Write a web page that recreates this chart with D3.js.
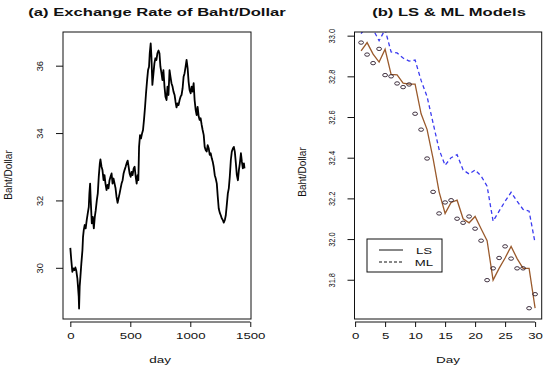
<!DOCTYPE html>
<html lang="en">
<head>
<meta charset="utf-8">
<script src="https://d3js.org/d3.v7.min.js"></script>
<style>
  body { margin: 0; background: #fff; }
  svg text { font-family: "Liberation Sans", Arial, sans-serif; fill: #111; }
</style>
</head>
<body>
<div id="chart"></div>
<script>
// ---- panel (a): daily exchange rate ----
var rateDay = [0, 8, 17, 25, 34, 42, 50, 59, 64, 70, 73, 78, 84, 92, 101, 106, 112, 120, 128, 137,
  145, 154, 159, 165, 170, 179, 187, 196, 204, 212, 221, 229, 237, 246, 251, 260, 268, 277, 285, 293,
  302, 310, 318, 327, 335, 344, 352, 360, 369, 377, 385, 394, 402, 411, 419, 427, 436, 444, 452, 461,
  469, 478, 486, 494, 503, 511, 519, 528, 536, 545, 553, 561, 567, 573, 581, 589, 598, 606, 614, 623,
  631, 640, 648, 656, 662, 670, 676, 684, 693, 701, 709, 718, 726, 735, 743, 751, 760, 768, 776, 785,
  793, 802, 810, 818, 827, 835, 843, 852, 860, 869, 877, 885, 894, 902, 911, 919, 927, 936, 944, 952,
  961, 969, 978, 986, 994, 1003, 1011, 1019, 1028, 1036, 1045, 1053, 1061, 1070, 1078, 1086, 1095, 1103, 1112, 1120,
  1128, 1137, 1145, 1154, 1162, 1170, 1179, 1187, 1195, 1204, 1212, 1221, 1229, 1237, 1246, 1254, 1262, 1271, 1279, 1288,
  1296, 1304, 1313, 1321, 1329, 1338, 1346, 1355, 1363, 1371, 1380, 1388, 1397, 1405, 1413, 1422, 1430, 1438, 1447, 1452];
var rateVal = [30.59, 30.23, 29.88, 29.98, 29.93, 30.01, 29.91, 29.68, 29.44, 29.14, 28.79, 29.44, 29.73, 30.13, 30.52, 30.92, 31.12, 31.27, 31.17, 31.42,
  31.61, 31.81, 32.21, 32.50, 32.01, 31.32, 31.51, 31.17, 31.51, 31.71, 32.01, 32.21, 32.70, 33.10, 33.22, 33.00, 32.90, 32.60, 32.75, 32.50,
  32.31, 32.46, 32.36, 32.60, 32.70, 32.80, 32.50, 32.65, 32.50, 32.36, 32.11, 31.93, 32.06, 32.21, 32.36, 32.50, 32.60, 32.80, 32.90, 33.00,
  33.10, 33.18, 33.00, 32.80, 32.70, 32.85, 32.75, 32.95, 33.00, 32.70, 32.50, 32.75, 32.60, 33.59, 33.94, 33.84, 33.99, 34.09, 34.39, 34.78,
  35.18, 35.57, 35.87, 35.97, 36.37, 36.66, 36.27, 35.43, 35.77, 36.07, 36.22, 36.17, 36.37, 36.45, 36.37, 35.97, 35.77, 35.57, 35.87, 35.38,
  35.08, 34.98, 35.38, 35.13, 35.87, 35.67, 35.48, 35.38, 35.23, 35.13, 34.93, 34.76, 34.88, 34.83, 34.98, 35.08, 35.13, 35.33, 35.67, 35.77,
  35.97, 36.17, 35.92, 35.52, 35.28, 35.18, 35.38, 35.23, 35.48, 34.98, 34.68, 34.53, 34.78, 34.49, 34.39, 34.44, 34.24, 34.09, 33.94, 33.59,
  33.50, 33.45, 33.64, 33.54, 33.35, 33.40, 33.25, 33.15, 33.00, 32.75, 32.65, 32.50, 32.11, 31.76, 31.63, 31.56, 31.47, 31.42, 31.34, 31.42,
  31.56, 31.86, 32.21, 32.36, 32.70, 33.20, 33.45, 33.54, 33.59, 33.45, 33.10, 32.75, 32.60, 32.90, 33.10, 33.40, 33.15, 32.95, 33.10, 32.95];
var rateXTicks = [0, 500, 1000, 1500];
var rateYTicks = [30, 32, 34, 36];

// ---- panel (b): last 30 days, observed vs LS and ML fits ----
var days = d3.range(1, 31);
var observed = [32.966, 32.907, 32.865, 32.935, 32.806, 32.800, 32.765, 32.747, 32.760, 32.616,
  32.538, 32.396, 32.232, 32.126, 32.180, 32.191, 32.100, 32.080, 32.111, 32.051,
  31.992, 31.798, 31.856, 31.907, 31.964, 31.904, 31.856, 31.856, 31.660, 31.729];
var lsFit = [32.925, 32.966, 32.909, 32.870, 32.933, 32.810, 32.807, 32.767, 32.762, 32.762,
  32.616, 32.538, 32.396, 32.232, 32.126, 32.180, 32.191, 32.100, 32.080, 32.111,
  32.051, 31.992, 31.798, 31.856, 31.907, 31.964, 31.904, 31.856, 31.856, 31.660];
var mlFit = [33.010, 33.050, 33.030, 32.975, 33.030, 32.920, 32.915, 32.890, 32.875, 32.880,
  32.780, 32.700, 32.570, 32.440, 32.363, 32.400, 32.415, 32.340, 32.320, 32.340,
  32.310, 32.260, 32.088, 32.137, 32.186, 32.230, 32.186, 32.146, 32.137, 31.980];
var dayTicks = [0, 5, 10, 15, 20, 25, 30];
var fitYTicks = [31.8, 32.0, 32.2, 32.4, 32.6, 32.8, 33.0];
var legendNames = ["LS", "ML"];

var width = 550, height = 369;
var stretch = 1.42;   // the picture is wider than tall, text looks stretched

var svg = d3.select("#chart").append("svg")
  .attr("width", width)
  .attr("height", height);

// horizontal text, stretched like the reference
function label(x, y, txt, size, bold) {
  return svg.append("text")
    .attr("transform", "translate(" + x + "," + y + ") scale(" + stretch + ",1)")
    .attr("text-anchor", "middle")
    .style("font-size", size + "px")
    .style("font-weight", bold ? "bold" : "normal")
    .text(txt);
}

function vlabel(x, y, txt) {
  return svg.append("text")
    .attr("transform", "translate(" + x + "," + y + ") rotate(-90)")
    .attr("text-anchor", "middle")
    .style("font-size", "10px")
    .text(txt);
}

function xAxis(scale, ticks, fmt) {
  var g = svg.append("g")
    .attr("transform", "translate(0,322)")
    .call(d3.axisBottom(scale).tickValues(ticks).tickFormat(fmt).tickSize(5).tickSizeOuter(0).tickPadding(5));
  g.select(".domain").attr("d", "M" + scale(ticks[0]) + ",0H" + scale(ticks[ticks.length - 1]));
  g.selectAll("line, path").attr("stroke", "#111");
  g.selectAll("text")
    .attr("transform", "scale(" + stretch + ",1)")
    .style("font-size", "9.3px")
    .attr("fill", "#111");
}

function yAxis(scale, x0, ticks, fmt, offset, squash) {
  var g = svg.append("g")
    .attr("transform", "translate(" + x0 + ",0)")
    .call(d3.axisLeft(scale).tickValues(ticks).tickFormat(fmt).tickSize(7).tickSizeOuter(0));
  g.select(".domain").remove();
  g.selectAll("line").attr("stroke", "#111");
  g.selectAll("text")
    .attr("x", 0).attr("y", 0).attr("dy", null)
    .attr("text-anchor", "middle")
    .attr("transform", "translate(" + (-offset) + ",0) rotate(-90) scale(" + squash + ",1)")
    .style("font-size", "9.3px")
    .attr("fill", "#111");
}

// ================= panel (a) =================
var xL = d3.scaleLinear().domain([-61, 1506]).range([63, 251]);
var yL = d3.scaleLinear().domain([28.48, 37.0]).range([319, 32]);

svg.append("rect")
  .attr("x", xL.range()[0]).attr("y", yL.range()[1])
  .attr("width", xL.range()[1] - xL.range()[0])
  .attr("height", yL.range()[0] - yL.range()[1])
  .attr("fill", "none").attr("stroke", "#111").attr("stroke-width", 1);

var rateLine = d3.line()
  .x(function(d, i) { return xL(rateDay[i]); })
  .y(function(d) { return yL(d); });

svg.append("path")
  .datum(rateVal)
  .attr("d", rateLine)
  .attr("fill", "none")
  .attr("stroke", "#000")
  .attr("stroke-width", 1.8)
  .attr("stroke-linejoin", "round");

xAxis(xL, rateXTicks, d3.format("d"));
yAxis(yL, 63, rateYTicks, d3.format("d"), 20, 1);

label(157, 16, "(a) Exchange Rate of Baht/Dollar", 11.7, true);
label(160, 363, "day", 9.5, false);
vlabel(12, 175, "Baht/Dollar");

// ================= panel (b) =================
var xR = d3.scaleLinear().domain([-0.1, 31.1]).range([354.5, 541.7]);
var yR = d3.scaleLinear().domain([31.607, 33.018]).range([319, 32]);

svg.append("clipPath").attr("id", "clipR")
  .append("rect")
  .attr("x", xR.range()[0]).attr("y", yR.range()[1])
  .attr("width", xR.range()[1] - xR.range()[0])
  .attr("height", yR.range()[0] - yR.range()[1]);

var plotR = svg.append("g").attr("clip-path", "url(#clipR)");

var fitLine = d3.line()
  .x(function(d, i) { return xR(days[i]); })
  .y(function(d) { return yR(d); });

plotR.append("path")
  .datum(mlFit)
  .attr("d", fitLine)
  .attr("fill", "none")
  .attr("stroke", "#3b3bf0")
  .attr("stroke-width", 1.3)
  .attr("stroke-dasharray", "4,3");

plotR.append("path")
  .datum(lsFit)
  .attr("d", fitLine)
  .attr("fill", "none")
  .attr("stroke", "#9a5a2c")
  .attr("stroke-width", 1.3);

plotR.selectAll("ellipse")
  .data(observed)
  .enter()
  .append("ellipse")
  .attr("cx", function(d, i) { return xR(days[i]); })
  .attr("cy", function(d) { return yR(d); })
  .attr("rx", 2.4)
  .attr("ry", 1.7)
  .attr("fill", "none")
  .attr("stroke", "#2a1a2a")
  .attr("stroke-width", 0.9);

svg.append("rect")
  .attr("x", xR.range()[0]).attr("y", yR.range()[1])
  .attr("width", xR.range()[1] - xR.range()[0])
  .attr("height", yR.range()[0] - yR.range()[1])
  .attr("fill", "none").attr("stroke", "#111").attr("stroke-width", 1);

xAxis(xR, dayTicks, d3.format("d"));
yAxis(yR, 354.5, fitYTicks, d3.format(".1f"), 19.5, 0.8);

label(449, 16, "(b) LS & ML Models", 11.7, true);
label(448, 363, "Day", 9.5, false);
vlabel(306, 172, "Baht/Dollar");

// legend
var leg = svg.append("g").attr("transform", "translate(367,239)");
leg.append("rect")
  .attr("width", 75).attr("height", 33)
  .attr("fill", "#fff").attr("stroke", "#111").attr("stroke-width", 1);
leg.selectAll("line.key")
  .data(legendNames)
  .enter()
  .append("line")
  .attr("class", "key")
  .attr("x1", 12).attr("x2", 36)
  .attr("y1", function(d, i) { return 11 + i * 12; })
  .attr("y2", function(d, i) { return 11 + i * 12; })
  .attr("stroke", "#111")
  .attr("stroke-width", 1)
  .attr("stroke-dasharray", function(d, i) { return i ? "3,2" : null; });
leg.selectAll("text")
  .data(legendNames)
  .enter()
  .append("text")
  .attr("transform", function(d, i) { return "translate(57," + (14.5 + i * 12) + ") scale(" + stretch + ",1)"; })
  .attr("text-anchor", "middle")
  .style("font-size", "9.3px")
  .text(function(d) { return d; });
</script>
</body>
</html>
